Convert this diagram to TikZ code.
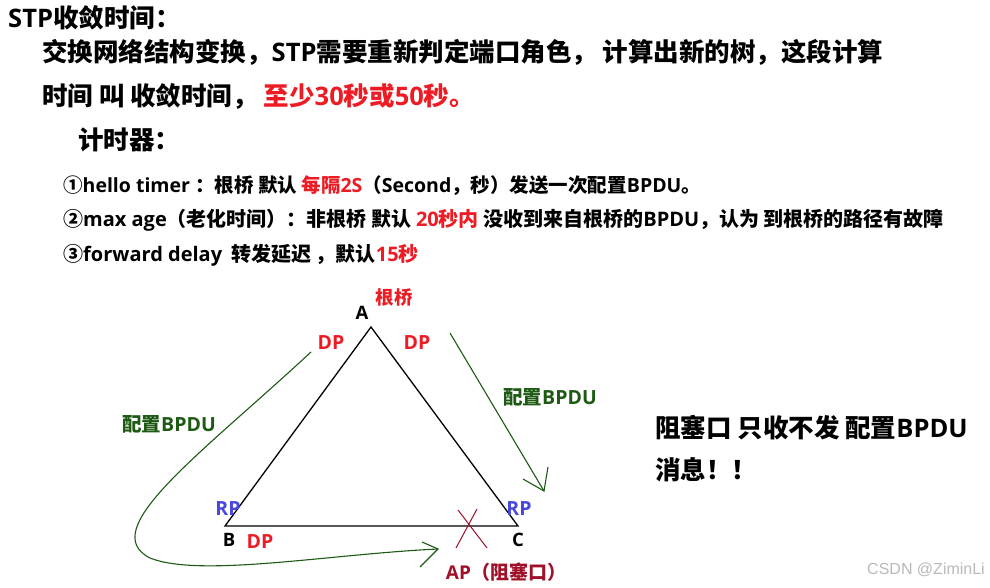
\documentclass[tikz,border=0pt]{standalone}
\usepackage{fontspec}
\setmainfont{Noto Sans CJK SC}
\newfontfamily\lafont{Open Sans}
\newfontfamily\wmfont{Liberation Sans}
\newcommand\la[1]{{\lafont #1}}
\definecolor{myred}{RGB}{237,28,36}
\definecolor{myblue}{RGB}{72,72,220}
\definecolor{mygreen}{RGB}{30,90,20}
\definecolor{mydarkred}{RGB}{160,16,40}
\definecolor{wmgray}{RGB}{185,185,185}
\tikzset{
  txt/.style={inner sep=0pt, anchor=west, font=\bfseries},
  big/.style={txt, font=\bfseries\fontsize{25.5}{30}\selectfont},
  mid/.style={txt, font=\bfseries\fontsize{19.5}{23}\selectfont},
  lbl/.style={inner sep=0pt, font=\bfseries\fontsize{19.5}{23}\selectfont},
  green arrow/.style={draw=mygreen, line width=1.1pt},
  tri/.style={draw=black, line width=1.3pt, line join=miter},
}
\begin{document}
\begin{tikzpicture}[x=1pt,y=-1pt]
\useasboundingbox (0,0) rectangle (990,588);
\fill[white] (0,0) rectangle (990,588);

% header text
\node[big] (t1) at (8,18) {\la{STP}收敛时间：};
\node[big] (t2) at (42,52) {交换网络结构变换，\la{STP}需要重新判定端口角色， 计算出新的树，这段计算};
\node[big] (t3) at (42,96) {时间 叫 收敛时间， \textcolor{myred}{至少\la{30}秒或\la{50}秒。}};
\node[big] (t4) at (78,140) {计时器：};

\node[mid] (h1) at (63,186) {①\la{hello timer }：根桥 默认 \textcolor{myred}{每隔\la{2S}}（\la{Second}，秒）发送一次配置\la{BPDU}。};
\node[mid, font=\bfseries\fontsize{20}{23}\selectfont] (h2) at (63,220) {②\la{max age}（老化时间）：非根桥 默认 \textcolor{myred}{\la{20}秒内} 没收到来自根桥的\la{BPDU}，认为 到根桥的路径有故障};
\node[mid, font=\bfseries\fontsize{20}{23}\selectfont] (h3) at (63,255) {③\la{forward delay}\ \ 转发延迟 ，默认\textcolor{myred}{\la{15}秒}};

% triangle
\coordinate (A) at (371,327);
\coordinate (B) at (225,526);
\coordinate (C) at (518,526);
\draw[tri] (A) -- (B) -- (C) -- cycle;

\node[lbl, font=\bfseries\fontsize{18.5}{22}\selectfont] (la) at (362,313) {\la{A}};
\node[lbl, font=\bfseries\fontsize{18.5}{22}\selectfont] (lb) at (229,540) {\la{B}};
\node[lbl, font=\bfseries\fontsize{18.5}{22}\selectfont] (lc) at (518,540) {\la{C}};
\node[lbl, text=myred, font=\bfseries\fontsize{18.5}{22}\selectfont] (root) at (394,298) {根桥};
\node[lbl, text=myred] (dp1) at (331,343) {\la{DP}};
\node[lbl, text=myred] (dp2) at (417,343) {\la{DP}};
\node[lbl, text=myred] (dp3) at (260,542) {\la{DP}};
\node[lbl, text=myblue] (rp1) at (228,509) {\la{RP}};
\node[lbl, text=myblue] (rp2) at (519,509) {\la{RP}};
\node[lbl, text=mydarkred, font=\bfseries\fontsize{19}{23}\selectfont] (ap) at (506,572) {\la{AP}（阻塞口）};

% blocked mark
\coordinate (x1a) at (456,548); \coordinate (x1b) at (477,509);
\coordinate (x2a) at (458,510); \coordinate (x2b) at (487,548);
\draw[mydarkred, line width=1pt] (x1a) -- (x1b);
\draw[mydarkred, line width=1pt] (x2a) -- (x2b);

% right BPDU arrow
\coordinate (r0) at (450,333);
\coordinate (r1) at (544,491);
\coordinate (rb1) at (523,479);
\coordinate (rb2) at (548,467);
\draw[green arrow] (r0) -- (r1);
\draw[green arrow] (rb1) -- (r1) -- (rb2);
\node[lbl, text=mygreen] (bp1) at (550,397) {配置\la{BPDU}};

% left BPDU curve
\coordinate (l0) at (311,352);
\coordinate (lm) at (150,558);
\coordinate (l1) at (438,549);
\coordinate (lb1) at (422,542);
\coordinate (lb2) at (420,567);
\draw[green arrow] (l0) .. controls (200,455) and (95,530) .. (lm) .. controls (200,578) and (330,554) .. (l1);
\draw[green arrow] (lb1) -- (l1) -- (lb2);
\node[lbl, text=mygreen] (bp2) at (169,424) {配置\la{BPDU}};

% right note
\node[txt, font=\bfseries\fontsize{25.5}{30}\selectfont] (n1) at (655,428) {阻塞口 只收不发 配置\la{BPDU}};
\node[txt, font=\bfseries\fontsize{25.5}{30}\selectfont] (n2) at (655,470) {消息！！};

% watermark
\node[inner sep=0pt, anchor=east, text=wmgray, font=\wmfont\fontsize{16}{18}\selectfont] (wm) at (985,570) {CSDN @ZiminLi};
\end{tikzpicture}
\end{document}
